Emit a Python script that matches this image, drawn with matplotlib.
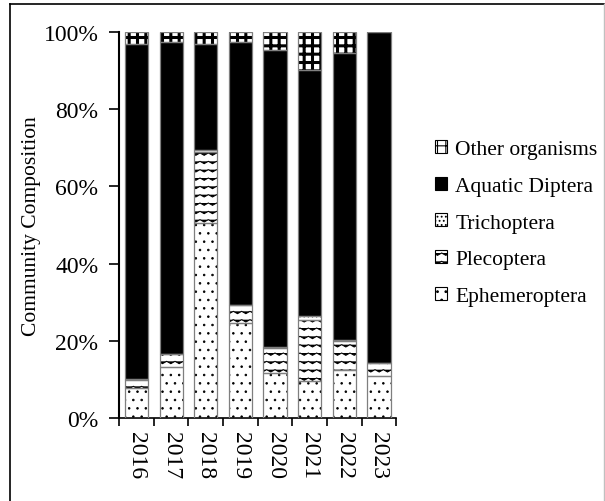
import warnings
import numpy as np
import matplotlib
matplotlib.use("Agg")
import matplotlib.pyplot as plt
from matplotlib import hatch as mhatch
from matplotlib.path import Path
from matplotlib.patches import Patch
from matplotlib.lines import Line2D

warnings.filterwarnings("ignore")

years = ["2016", "2017", "2018", "2019", "2020", "2021", "2022", "2023"]
# community composition, percent
ephemeroptera = [7.9, 13.2, 50.4, 24.6, 11.8, 9.6, 12.4, 11.0]
plecoptera = [2.1, 3.3, 18.5, 4.7, 6.4, 15.9, 7.6, 3.2]
trichoptera = [0.2, 0.1, 0.6, 0.1, 0.3, 1.0, 0.2, 0.2]
aquatic_diptera = [86.7, 80.7, 27.4, 67.9, 76.8, 63.6, 74.2, 85.4]
other_organisms = [3.1, 2.7, 3.1, 2.7, 4.7, 9.9, 5.6, 0.2]


# zig-zag hatch (not built into matplotlib)
class ZigZag(mhatch.HatchPatternBase):
    def __init__(self, hatch, density):
        self.rows = int(hatch.count("z") * density)
        self.teeth = self.rows
        self.num_vertices = self.rows * (2 * self.teeth + 1)

    def set_vertices_and_codes(self, vertices, codes):
        n = 2 * self.teeth + 1
        k = 0
        for r in range(self.rows):
            y0 = (r + 0.5) / self.rows
            amp = 0.14 / self.rows
            vertices[k:k + n, 0] = np.linspace(0, 1, n)
            vertices[k:k + n, 1] = y0 + np.where(np.arange(n) % 2 == 0, amp, -amp)
            codes[k] = Path.MOVETO
            codes[k + 1:k + n] = Path.LINETO
            k += n


mhatch._hatch_types.append(ZigZag)

plt.rcParams["font.family"] = ["Liberation Serif", "DejaVu Serif"]
plt.rcParams["hatch.linewidth"] = 0.8

fig = plt.figure(figsize=(6.05, 5.02), dpi=100)
ax = fig.add_axes([0.197, 0.165, 0.458, 0.770])

x = np.arange(len(years))
w = 0.67
series = [
    (ephemeroptera, "Ephemeroptera", "white", "..", 0.6),
    (plecoptera, "Plecoptera", "white", "zz", 0.75),
    (trichoptera, "Trichoptera", "white", "....", 0.5),
    (aquatic_diptera, "Aquatic Diptera", "black", None, 0.8),
    (other_organisms, "Other organisms", "white", "++", 2.2),
]

bottom = np.zeros(len(years))
handles = []
for vals, name, fc, hatch, hlw in series:
    vals = np.array(vals)
    bars = ax.bar(x, vals, w, bottom=bottom, color=fc, edgecolor="black",
                  linewidth=0, hatch=hatch, zorder=2)
    for b in bars:
        if hasattr(b, "set_hatch_linewidth"):
            b.set_hatch_linewidth(hlw)
    ax.bar(x, vals, w, bottom=bottom, color="none", edgecolor="#7f7f7f",
           linewidth=0.9, zorder=3)
    h = Patch(facecolor=fc, edgecolor="black", hatch=hatch, linewidth=0.8, label=name)
    if hasattr(h, "set_hatch_linewidth"):
        h.set_hatch_linewidth(min(hlw, 1.2))
    handles.append(h)
    bottom += vals

ax.set_xlim(-0.5, len(years) - 0.5)
ax.set_ylim(0, 100)
ax.set_yticks([0, 20, 40, 60, 80, 100])
ax.set_yticklabels(["0%", "20%", "40%", "60%", "80%", "100%"], fontsize=17)
ax.set_xticks(x)
ax.set_xticklabels(years, rotation=270, fontsize=17)
ax.tick_params(axis="x", length=0, pad=9)
ax.set_xticks(np.arange(len(years) + 1) - 0.5, minor=True)
ax.tick_params(axis="x", which="minor", length=6, width=1.2, direction="out")
ax.tick_params(axis="y", length=7, width=1.2, direction="out", pad=8)
for s in ["top", "right"]:
    ax.spines[s].set_visible(False)
ax.spines["left"].set_linewidth(1.5)
ax.spines["bottom"].set_linewidth(1.2)
ax.set_ylabel("Community Composition", fontsize=15.5, labelpad=2)

leg = ax.legend(handles[::-1], [h.get_label() for h in handles[::-1]],
                loc="center left", bbox_to_anchor=(1.07, 0.505), frameon=False,
                fontsize=15.5, handlelength=0.55, handleheight=0.55,
                handletextpad=0.4, labelspacing=0.82)

# outer frame
fig.add_artist(Line2D([10 / 605, 10 / 605], [0, 1 - 5 / 502], transform=fig.transFigure,
                      color="black", linewidth=1.2))
fig.add_artist(Line2D([10 / 605, 604 / 605], [1 - 5 / 502, 1 - 5 / 502],
                      transform=fig.transFigure, color="black", linewidth=1.2))
fig.add_artist(Line2D([603.5 / 605, 603.5 / 605], [0, 1 - 5 / 502],
                      transform=fig.transFigure, color="#c0c0c0", linewidth=1.0))

fig.savefig("out.png", dpi=100)
